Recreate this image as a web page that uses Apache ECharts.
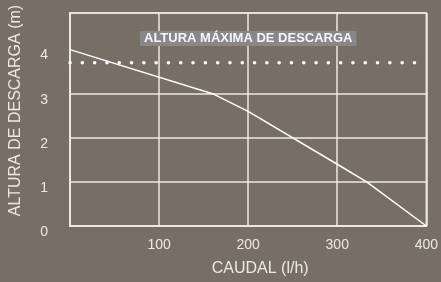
<!DOCTYPE html>
<html>
<head>
<meta charset="utf-8">
<script src="https://cdn.jsdelivr.net/npm/echarts@6/dist/echarts.min.js"></script>
<style>
  html, body { margin: 0; padding: 0; background: #776f66; }
  #chart { width: 441px; height: 282px; }
</style>
</head>
<body>
<div id="chart"></div>
<script>
// curva de la bomba: caudal (l/h) / altura (m)
const caudal = [0, 160, 200, 300, 333, 400];
const altura = [4.0, 3.0, 2.6, 1.4, 1.0, 0];
const alturaMaxima = 3.7;
const xTicks = [100, 200, 300, 400];

const font = '"Liberation Sans", Arial, sans-serif';
const light = '#ece9e4';

let option = {
  backgroundColor: '#776f66',
  animation: false,
  title: {
    text: 'ALTURA MÁXIMA DE DESCARGA',
    left: 140,
    top: 31,
    padding: [1, 4, 1, 4],
    backgroundColor: '#89878a',
    textStyle: {
      color: '#f6f6f6',
      fontFamily: font,
      fontWeight: 'bold',
      fontSize: 13
    }
  },
  grid: {
    left: 69,
    right: 9,
    top: 13,
    bottom: 52,
    show: true,
    borderColor: light,
    borderWidth: 1.5
  },
  xAxis: {
    type: 'value',
    min: 0,
    max: 400,
    interval: 100,
    name: 'CAUDAL (l/h)',
    nameLocation: 'middle',
    nameGap: 35,
    nameTextStyle: {
      color: light,
      fontFamily: font,
      fontSize: 16,
      padding: [0, 0, 0, 24]
    },
    axisLine: { lineStyle: { color: light, width: 2 } },
    axisTick: { show: false },
    axisLabel: {
      color: light,
      fontFamily: font,
      fontSize: 14,
      margin: 12,
      formatter: v => xTicks.indexOf(v) >= 0 ? String(v) : ''
    },
    splitLine: { lineStyle: { color: light, width: 1.5 } }
  },
  yAxis: {
    type: 'value',
    min: 0,
    max: 4.83,
    interval: 1,
    name: 'ALTURA DE DESCARGA (m)',
    nameLocation: 'middle',
    nameGap: 46,
    nameTextStyle: {
      color: light,
      fontFamily: font,
      fontSize: 16,
      padding: [0, 0, 0, 18]
    },
    axisLine: { show: true, lineStyle: { color: light, width: 2 } },
    axisTick: { show: false },
    axisLabel: {
      color: light,
      fontFamily: font,
      fontSize: 14,
      margin: 22,
      verticalAlign: 'top',
      padding: [-1, 0, 0, 0],
      formatter: v => Number.isInteger(v) ? String(v) : ''
    },
    splitLine: {
      lineStyle: {
        color: [light, light, light, light, 'transparent', light],
        width: 1.5
      }
    }
  },
  series: [
    {
      type: 'line',
      data: caudal.map((c, i) => [c, altura[i]]),
      symbol: 'none',
      lineStyle: { color: '#ffffff', width: 1.5 }
    },
    {
      type: 'line',
      data: [[0, alturaMaxima], [400, alturaMaxima]],
      symbol: 'none',
      lineStyle: {
        color: '#ffffff',
        width: 3.5,
        type: [0.1, 12.2],
        cap: 'round'
      }
    }
  ]
};

echarts.init(document.getElementById('chart')).setOption(option);
</script>
</body>
</html>
